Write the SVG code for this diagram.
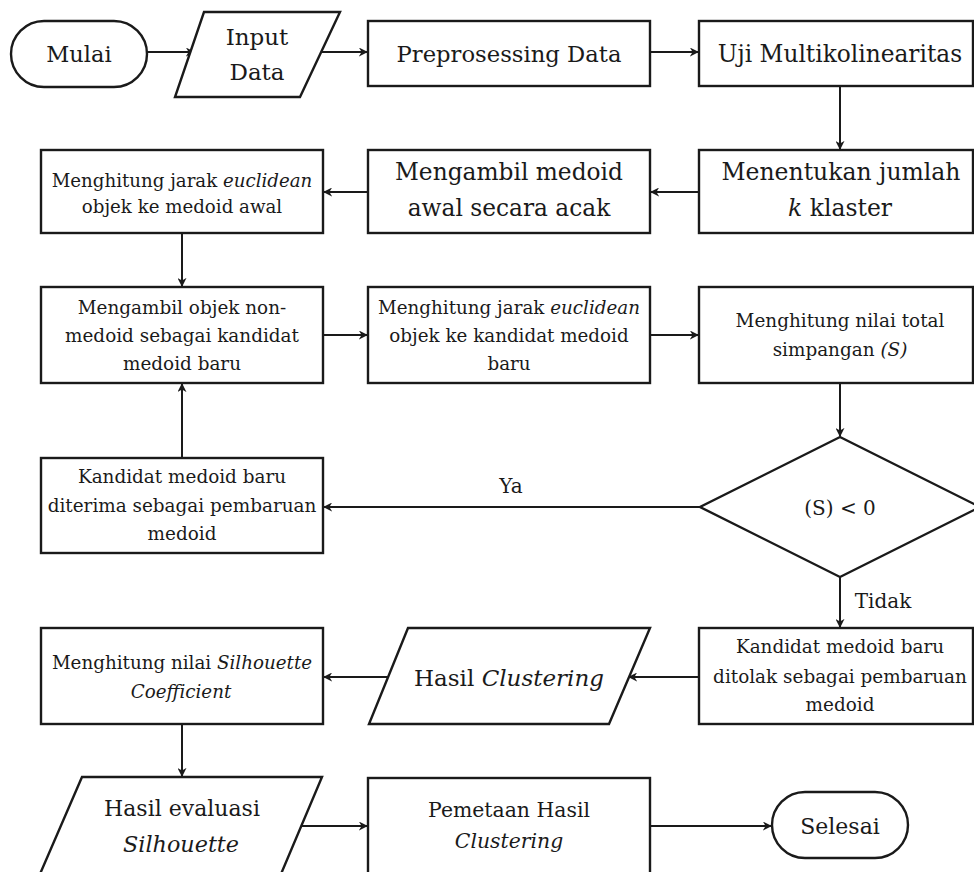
<svg xmlns="http://www.w3.org/2000/svg" width="974" height="872" viewBox="0 0 974 872">
<defs>
<style>
.s{fill:#fff;stroke:#1a1a1a;stroke-width:2.4}
.t{font-family:"DejaVu Serif","Liberation Serif",serif;fill:#1a1a1a;text-anchor:middle}
.c{fill:none;stroke:#1a1a1a;stroke-width:2}
.i{font-style:italic}
</style>
<marker id="a" viewBox="0 0 10 10" refX="9" refY="5" markerWidth="9" markerHeight="9" markerUnits="userSpaceOnUse" orient="auto">
<path d="M0,0 L10,5 L0,10 L3,5 z" fill="#1a1a1a"/>
</marker>
</defs>
<rect width="974" height="872" fill="#fff"/>
<g id="connectors">
<line class="c" x1="147" y1="52" x2="194" y2="52" marker-end="url(#a)"/>
<line class="c" x1="321" y1="52" x2="367" y2="52" marker-end="url(#a)"/>
<line class="c" x1="650" y1="52" x2="698" y2="52" marker-end="url(#a)"/>
<line class="c" x1="840" y1="86" x2="840" y2="149" marker-end="url(#a)"/>
<line class="c" x1="699" y1="192" x2="651" y2="192" marker-end="url(#a)"/>
<line class="c" x1="368" y1="192" x2="324" y2="192" marker-end="url(#a)"/>
<line class="c" x1="182" y1="233" x2="182" y2="286" marker-end="url(#a)"/>
<line class="c" x1="323" y1="335" x2="367" y2="335" marker-end="url(#a)"/>
<line class="c" x1="650" y1="335" x2="698" y2="335" marker-end="url(#a)"/>
<line class="c" x1="840" y1="383" x2="840" y2="436" marker-end="url(#a)"/>
<line class="c" x1="700" y1="507" x2="324" y2="507" marker-end="url(#a)"/>
<line class="c" x1="182" y1="458" x2="182" y2="384" marker-end="url(#a)"/>
<line class="c" x1="840" y1="577" x2="840" y2="627" marker-end="url(#a)"/>
<line class="c" x1="699" y1="677" x2="629" y2="677" marker-end="url(#a)"/>
<line class="c" x1="388" y1="677" x2="324" y2="677" marker-end="url(#a)"/>
<line class="c" x1="182" y1="724" x2="182" y2="776" marker-end="url(#a)"/>
<line class="c" x1="302" y1="826" x2="367" y2="826" marker-end="url(#a)"/>
<line class="c" x1="650" y1="826" x2="771" y2="826" marker-end="url(#a)"/>
<text class="t" x="511" y="493" font-size="20">Ya</text>
<text class="t" x="883" y="608" font-size="20">Tidak</text>
</g>
<g id="mulai">
<rect class="s" x="11" y="21" width="136" height="66" rx="33"/>
<text class="t" x="79" y="62" font-size="22.5">Mulai</text>
</g>
<g id="input-data">
<polygon class="s" points="204,12 340,12 300,97 175,97"/>
<text class="t" x="257" y="45" font-size="23">Input</text>
<text class="t" x="257" y="80" font-size="23">Data</text>
</g>
<g id="preprosessing">
<rect class="s" x="368" y="21" width="282" height="65"/>
<text class="t" x="509" y="62" font-size="22.7">Preprosessing Data</text>
</g>
<g id="uji">
<rect class="s" x="699" y="21" width="274" height="65"/>
<text class="t" x="840" y="62" font-size="23.3">Uji Multikolinearitas</text>
</g>
<g id="menentukan">
<rect class="s" x="699" y="150" width="274" height="83"/>
<text class="t" x="841" y="180" font-size="23.5">Menentukan jumlah</text>
<text class="t" x="840" y="216" font-size="23.5"><tspan class="i">k</tspan> klaster</text>
</g>
<g id="mengambil-awal">
<rect class="s" x="368" y="150" width="282" height="83"/>
<text class="t" x="509" y="180" font-size="23.3">Mengambil medoid</text>
<text class="t" x="509" y="216" font-size="23.3">awal secara acak</text>
</g>
<g id="jarak-awal">
<rect class="s" x="41" y="150" width="282" height="83"/>
<text class="t" x="182" y="187" font-size="18.2">Menghitung jarak <tspan class="i">euclidean</tspan></text>
<text class="t" x="182" y="213" font-size="18.2">objek ke medoid awal</text>
</g>
<g id="non-medoid">
<rect class="s" x="41" y="287" width="282" height="96"/>
<text class="t" x="182" y="314" font-size="18.4">Mengambil objek non-</text>
<text class="t" x="182" y="342" font-size="18.4">medoid sebagai kandidat</text>
<text class="t" x="182" y="370" font-size="18.4">medoid baru</text>
</g>
<g id="jarak-kandidat">
<rect class="s" x="368" y="287" width="282" height="96"/>
<text class="t" x="509" y="314" font-size="18.3">Menghitung jarak <tspan class="i">euclidean</tspan></text>
<text class="t" x="509" y="342" font-size="18.3">objek ke kandidat medoid</text>
<text class="t" x="509" y="370" font-size="18.3">baru</text>
</g>
<g id="total-simpangan">
<rect class="s" x="699" y="287" width="274" height="96"/>
<text class="t" x="840" y="327" font-size="18.4">Menghitung nilai total</text>
<text class="t" x="840" y="356" font-size="18.4">simpangan <tspan class="i">(S)</tspan></text>
</g>
<g id="keputusan">
<polygon class="s" points="840,437 980,507 840,577 700,507"/>
<text class="t" x="840" y="515" font-size="20">(S) &lt; 0</text>
</g>
<g id="diterima">
<rect class="s" x="41" y="458" width="282" height="95"/>
<text class="t" x="182" y="483" font-size="18.4">Kandidat medoid baru</text>
<text class="t" x="182" y="512" font-size="18.4">diterima sebagai pembaruan</text>
<text class="t" x="182" y="540" font-size="18.4">medoid</text>
</g>
<g id="ditolak">
<rect class="s" x="699" y="628" width="274" height="96"/>
<text class="t" x="840" y="653" font-size="18.4">Kandidat medoid baru</text>
<text class="t" x="840" y="683" font-size="18.4">ditolak sebagai pembaruan</text>
<text class="t" x="840" y="711" font-size="18.4">medoid</text>
</g>
<g id="hasil-clustering">
<polygon class="s" points="408,628 650,628 609,724 369,724"/>
<text class="t" x="509" y="686" font-size="23">Hasil <tspan class="i">Clustering</tspan></text>
</g>
<g id="silhouette-coef">
<rect class="s" x="41" y="628" width="282" height="96"/>
<text class="t" x="182" y="669" font-size="18.3">Menghitung nilai <tspan class="i">Silhouette</tspan></text>
<text class="t" x="181" y="698" font-size="18.3" font-style="italic">Coefficient</text>
</g>
<g id="hasil-evaluasi">
<polygon class="s" points="82,777 322,777 281,874 40,874"/>
<text class="t" x="182" y="816" font-size="22">Hasil evaluasi</text>
<text class="t" x="181" y="852" font-size="22.3" font-style="italic">Silhouette</text>
</g>
<g id="pemetaan">
<rect class="s" x="368" y="778" width="282" height="100"/>
<text class="t" x="509" y="817" font-size="20.4">Pemetaan Hasil</text>
<text class="t" x="509" y="848" font-size="20.4" font-style="italic">Clustering</text>
</g>
<g id="selesai">
<rect class="s" x="772" y="792" width="136" height="66" rx="33"/>
<text class="t" x="840" y="834" font-size="22">Selesai</text>
</g>
</svg>
